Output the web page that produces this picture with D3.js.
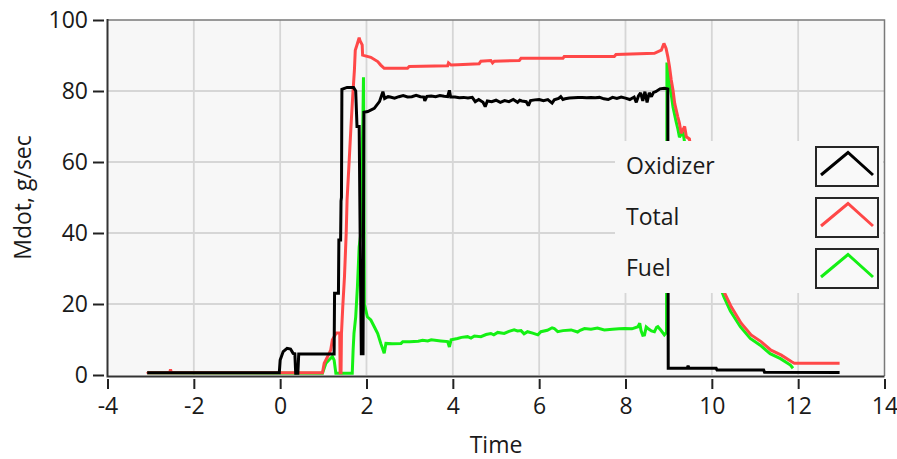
<!DOCTYPE html>
<html>
<head>
<meta charset="utf-8">
<script src="https://cdn.jsdelivr.net/npm/d3@7"></script>
<style>
  html, body { margin: 0; padding: 0; background: #ffffff; }
  svg { display: block; }
  text { font-family: "Open Sans", "Noto Sans", sans-serif; fill: #1a1a1a; }
</style>
</head>
<body>
<svg id="chart" width="897" height="459"></svg>
<script>
// Axis ticks
const xTicks = [-4, -2, 0, 2, 4, 6, 8, 10, 12, 14];
const yTicks = [0, 20, 40, 60, 80, 100];

// Mass flow rates [time, g/sec]
const oxidizerData = [
  [-3.08, 0.6], [-0.02, 0.6], [0.0, 4.2], [0.07, 6.6], [0.16, 7.5], [0.24, 7.3], [0.30, 6.1],
  [0.34, 6.0], [0.36, 0.5], [0.41, 0.5], [0.43, 5.9], [1.25, 5.9], [1.26, 23], [1.35, 23],
  [1.36, 38], [1.40, 38], [1.41, 49], [1.42, 50], [1.43, 80.5], [1.55, 81], [1.70, 81],
  [1.75, 80], [1.78, 70], [1.83, 70], [1.86, 30], [1.88, 6], [1.92, 6], [1.94, 74],
  [2.03, 74.2], [2.18, 75.1], [2.30, 77], [2.38, 79.8], [2.42, 77.9], [2.50, 78.4],
  [2.55, 78.3], [2.65, 78.0], [2.75, 78.4], [2.85, 78.7], [2.95, 78.3], [3.05, 78.4],
  [3.15, 78.8], [3.25, 78.4], [3.33, 78.3], [3.35, 77.2], [3.40, 78.5], [3.50, 78.6],
  [3.60, 78.4], [3.70, 78.7], [3.80, 78.5], [3.88, 78.4], [3.92, 80.2], [3.95, 78.3],
  [4.05, 78.3], [4.15, 78.1], [4.25, 78.2], [4.35, 78.0], [4.45, 78.2], [4.52, 77.0],
  [4.60, 77.6], [4.70, 76.8], [4.75, 75.6], [4.80, 77.2], [4.90, 77.0], [5.00, 77.4],
  [5.10, 76.8], [5.20, 77.3], [5.30, 77.0], [5.40, 77.6], [5.50, 76.8], [5.55, 77.4],
  [5.60, 77.2], [5.70, 77.0], [5.75, 75.9], [5.80, 77.3], [5.90, 77.5], [6.00, 77.6],
  [6.10, 77.3], [6.20, 77.6], [6.30, 76.6], [6.35, 77.5], [6.45, 77.9], [6.50, 78.4],
  [6.55, 77.6], [6.60, 77.8], [6.70, 78.0], [6.80, 78.1], [6.90, 78.2], [7.00, 78.2],
  [7.10, 78.1], [7.20, 78.2], [7.30, 78.1], [7.40, 78.2], [7.50, 77.8], [7.60, 77.6],
  [7.70, 78.2], [7.80, 77.9], [7.90, 78.3], [8.00, 78.0], [8.10, 77.6], [8.20, 78.3],
  [8.25, 76.8], [8.30, 78.6], [8.35, 79.5], [8.40, 77.2], [8.45, 79.8], [8.50, 76.8],
  [8.55, 79.5], [8.60, 78.4], [8.65, 79.6], [8.70, 79.8], [8.80, 80.6], [8.90, 80.8],
  [8.98, 80.6], [8.99, 1.9], [9.43, 1.9], [9.45, 2.6], [9.47, 1.9], [10.10, 1.9],
  [10.12, 1.4], [11.20, 1.4], [11.22, 0.8], [12.96, 0.7]
];

const totalData = [
  [-3.08, 0.9], [-3.06, 0.6], [-2.56, 0.6], [-2.54, 1.6], [-2.52, 0.6], [0.98, 0.6],
  [1.02, 3.3], [1.10, 5.2], [1.17, 7.0], [1.21, 9.9], [1.30, 11.8], [1.38, 11.8],
  [1.39, 0.6], [1.41, 0.6], [1.42, 11.7], [1.45, 19.2], [1.49, 27.7], [1.53, 40],
  [1.55, 49.3], [1.60, 60.6], [1.64, 69.9], [1.68, 78.4], [1.72, 85.9], [1.74, 91.5],
  [1.79, 93.4], [1.83, 95], [1.85, 94.2], [1.90, 93], [1.91, 90.1], [2.10, 89.5],
  [2.26, 88.3], [2.33, 87.3], [2.41, 86.4], [2.95, 86.4], [2.99, 86.9], [3.88, 87.1],
  [3.90, 87.9], [3.96, 87.3], [4.11, 87.4], [4.61, 87.7], [4.65, 88.4], [4.88, 88.6],
  [4.92, 87.9], [4.96, 88.4], [5.54, 88.6], [5.58, 89.2], [6.55, 89.2], [6.58, 89.7],
  [7.74, 89.7], [7.78, 90.3], [8.67, 90.6], [8.83, 91.5], [8.89, 93.4], [8.94, 92],
  [8.98, 89.7], [9.02, 86.8], [9.06, 83.1], [9.10, 80.3], [9.14, 76.5], [9.21, 72.8],
  [9.25, 70.9], [9.29, 68.1], [9.37, 70], [9.41, 67.1], [9.48, 66.5], [9.70, 50],
  [10.00, 33], [10.30, 23], [10.45, 19.2], [10.68, 14.6], [10.91, 11.3], [11.14, 9.4],
  [11.37, 7.0], [11.61, 5.6], [11.84, 3.8], [11.91, 3.3], [12.96, 3.3]
];

const fuelData = [
  [-3.08, 0.6], [0.98, 0.5], [1.06, 3.3], [1.13, 4.2], [1.21, 5.2], [1.25, 4.2],
  [1.29, 0.5], [1.67, 0.5], [1.69, 7.0], [1.71, 11.7], [1.75, 16.4], [1.79, 24.9],
  [1.83, 36.1], [1.87, 40], [1.88, 49.3], [1.92, 74.6], [1.93, 83.9], [1.95, 20],
  [2.02, 16.4], [2.10, 15.5], [2.18, 13.6], [2.26, 11.7], [2.33, 8.9], [2.41, 6.1],
  [2.45, 8.9], [2.60, 8.8], [2.80, 8.9], [2.84, 9.4], [3.00, 9.4], [3.20, 9.5],
  [3.30, 9.8], [3.42, 9.6], [3.50, 9.9], [3.72, 9.6], [3.88, 9.4], [3.92, 7.9],
  [3.96, 9.9], [4.11, 10.3], [4.20, 10.6], [4.34, 10.8], [4.42, 10.4], [4.50, 11.0],
  [4.65, 10.8], [4.77, 11.4], [4.88, 11.7], [4.95, 11.3], [5.04, 12.0], [5.19, 11.7],
  [5.30, 12.3], [5.42, 12.7], [5.50, 12.4], [5.58, 12.5], [5.65, 11.6], [5.73, 12.2],
  [5.85, 11.8], [5.97, 11.3], [6.04, 12.2], [6.19, 12.6], [6.30, 13.3], [6.35, 13.1],
  [6.43, 12.2], [6.55, 12.5], [6.74, 12.7], [6.89, 12.1], [6.95, 12.6], [7.05, 13.1],
  [7.20, 12.9], [7.35, 13.2], [7.51, 12.7], [7.70, 12.9], [7.85, 13.0], [7.98, 13.1],
  [8.15, 13.0], [8.29, 13.6], [8.33, 14.6], [8.36, 12.5], [8.40, 11.2], [8.44, 11.3],
  [8.48, 13.5], [8.52, 13.1], [8.60, 12.4], [8.67, 12.2], [8.72, 13.4], [8.75, 13.6],
  [8.82, 12.6], [8.90, 11.3], [8.95, 12.0], [8.96, 88], [9.02, 82], [9.06, 79],
  [9.10, 75.5], [9.17, 71.5], [9.21, 69.5], [9.25, 67], [9.33, 68.5], [9.37, 65.5],
  [9.45, 65], [9.70, 48], [10.00, 31], [10.28, 22], [10.43, 18], [10.66, 13.6],
  [10.89, 10.3], [11.12, 8.4], [11.35, 6.0], [11.59, 4.6], [11.82, 2.8], [11.88, 1.9]
];

const seriesNames = ["Oxidizer", "Total", "Fuel"];
const seriesColors = ["#000000", "#ff4848", "#14f014"];

const svg = d3.select("#chart");
const plot = { left: 107.5, right: 884.5, top: 20, bottom: 375 };

const x = d3.scaleLinear().domain([-4, 14]).range([plot.left, plot.right]);
const y = d3.scaleLinear().domain([0, 100]).range([plot.bottom, plot.top]);

// Plot background
svg.append("rect")
  .attr("x", plot.left).attr("y", plot.top)
  .attr("width", plot.right - plot.left).attr("height", plot.bottom - plot.top)
  .attr("fill", "#f7f7f7");

// Grid
const grid = svg.append("g").attr("stroke", "#d6d6d6").attr("stroke-width", 1.8);
grid.selectAll("line.v").data(xTicks.slice(1, -1)).join("line")
  .attr("x1", d => x(d)).attr("x2", d => x(d))
  .attr("y1", plot.top).attr("y2", plot.bottom);
grid.selectAll("line.h").data(yTicks.slice(1, -1)).join("line")
  .attr("y1", d => y(d)).attr("y2", d => y(d))
  .attr("x1", plot.left).attr("x2", plot.right);

// Series (fuel below total below oxidizer)
const line = d3.line().x(d => x(d[0])).y(d => y(d[1]));
const order = [
  { data: fuelData, color: seriesColors[2] },
  { data: totalData, color: seriesColors[1] },
  { data: oxidizerData, color: seriesColors[0] }
];
svg.append("g").selectAll("path").data(order).join("path")
  .attr("d", d => line(d.data))
  .attr("fill", "none")
  .attr("stroke", d => d.color)
  .attr("stroke-width", 3)
  .attr("stroke-linejoin", "miter")
  .attr("stroke-miterlimit", 2);

// Legend panel
const legend = svg.append("g");
legend.append("rect")
  .attr("x", 615).attr("y", 141).attr("width", 268).attr("height", 152)
  .attr("fill", "#f7f7f7");
const rows = legend.selectAll("g.row").data(seriesNames).join("g")
  .attr("transform", (d, i) => `translate(0, ${i * 51})`);
rows.append("text")
  .attr("x", 626).attr("y", 174)
  .attr("font-size", 23)
  .text(d => d);
rows.append("rect")
  .attr("x", 816).attr("y", 147).attr("width", 62).attr("height", 39)
  .attr("fill", "#f9f9f9").attr("stroke", "#262626").attr("stroke-width", 2);
rows.append("path")
  .attr("d", "M821,175 L848,152.5 L873,175")
  .attr("fill", "none")
  .attr("stroke", (d, i) => seriesColors[i])
  .attr("stroke-width", 3);

// Frame
svg.append("path")
  .attr("d", `M${plot.left},${plot.top} H${plot.right} V${plot.bottom + 1}`)
  .attr("fill", "none").attr("stroke", "#7a7a7a").attr("stroke-width", 1.5);
svg.append("path")
  .attr("d", `M${plot.left},${plot.top - 1} V${plot.bottom + 1.5} H${plot.right}`)
  .attr("fill", "none").attr("stroke", "#333333").attr("stroke-width", 2);

// Axes (plain hyphen for negative labels)
const fmt = d => String(d);
const yAxis = svg.append("g")
  .attr("transform", `translate(104,0)`)
  .call(d3.axisLeft(y).tickValues(yTicks).tickFormat(fmt).tickSize(11).tickPadding(5));
const xAxis = svg.append("g")
  .attr("transform", `translate(0,379)`)
  .call(d3.axisBottom(x).tickValues(xTicks).tickFormat(fmt).tickSize(10).tickPadding(9));
[yAxis, xAxis].forEach(g => {
  g.select(".domain").remove();
  g.selectAll(".tick line").attr("stroke", "#222").attr("stroke-width", 2);
  g.selectAll(".tick text").attr("font-size", 23).attr("fill", "#1a1a1a")
    .style("font-family", '"Open Sans", "Noto Sans", sans-serif');
});

// Axis titles
svg.append("text")
  .attr("x", (plot.left + plot.right) / 2).attr("y", 453)
  .attr("text-anchor", "middle").attr("font-size", 23)
  .text("Time");
svg.append("text")
  .attr("transform", `translate(31, ${(plot.top + plot.bottom) / 2}) rotate(-90)`)
  .attr("text-anchor", "middle").attr("font-size", 23)
  .text("Mdot, g/sec");
</script>
</body>
</html>
